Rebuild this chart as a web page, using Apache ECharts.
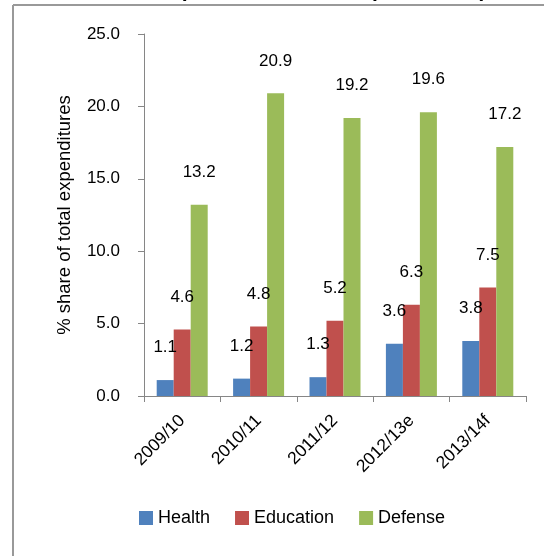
<!DOCTYPE html>
<html>
<head>
<meta charset="utf-8">
<script src="https://cdn.jsdelivr.net/npm/echarts@6/dist/echarts.min.js"></script>
<style>html,body{margin:0;padding:0;background:#fff;}#c{width:544px;height:556px;}</style>
</head>
<body>
<div id="c"></div>
<script>
var categories = ['2009/10', '2010/11', '2011/12', '2012/13e', '2013/14f'];
var health = [1.1, 1.2, 1.3, 3.6, 3.8];
var education = [4.6, 4.8, 5.2, 6.3, 7.5];
var defense = [13.2, 20.9, 19.2, 19.6, 17.2];
var seriesNames = ['Health', 'Education', 'Defense'];
var yTitle = '% share of total expenditures';
var chartTitle = '(% share of total expenditures)';

var FONT = 'Liberation Sans, Arial, sans-serif';
var chart = echarts.init(document.getElementById('c'));
function mk(name, data, color) {
  return {
    name: name, type: 'bar', data: data, barWidth: 17, barGap: '0%',
    itemStyle: { color: color },
    label: { show: true, position: 'top', distance: 24, color: '#000', fontSize: 17, fontFamily: FONT,
      formatter: function (p) { return p.value.toFixed(1); } }
  };
}
chart.setOption({
  animation: false,
  textStyle: { fontFamily: FONT },
  graphic: [
    { type: 'text', x: 333, y: 2, style: { text: chartTitle, fill: '#000', font: 'bold 21px ' + FONT, textAlign: 'center', textVerticalAlign: 'bottom' } },
    { type: 'line', shape: { x1: 13, y1: 5, x2: 544, y2: 5 }, style: { stroke: '#999', lineWidth: 2 } },
    { type: 'line', shape: { x1: 13, y1: 5, x2: 13, y2: 556 }, style: { stroke: '#999', lineWidth: 2 } }
  ],
  legend: {
    data: seriesNames, left: 134, top: 504, itemWidth: 14, itemHeight: 14, itemGap: 25,
    icon: 'rect', textStyle: { fontSize: 18, color: '#000', fontFamily: FONT }
  },
  grid: { left: 144, right: 18, top: 34, bottom: 160, containLabel: false },
  xAxis: {
    type: 'category', data: categories,
    axisLine: { lineStyle: { color: '#868686', width: 1 } },
    axisTick: { show: true, alignWithLabel: false, length: 6, lineStyle: { color: '#868686' } },
    axisLabel: { rotate: 45, fontSize: 17.5, color: '#000', margin: 22, fontFamily: FONT }
  },
  yAxis: {
    type: 'value', min: 0, max: 25, interval: 5,
    name: yTitle, nameLocation: 'middle', nameGap: 70, nameRotate: 90,
    nameTextStyle: { fontSize: 18.5, color: '#000', fontFamily: FONT },
    axisLine: { show: true, lineStyle: { color: '#868686', width: 1 } },
    axisTick: { show: true, length: 6, lineStyle: { color: '#868686' } },
    splitLine: { show: false },
    axisLabel: { fontSize: 17, color: '#000', margin: 24, fontFamily: FONT, formatter: function (v) { return v.toFixed(1); } }
  },
  series: [
    mk(seriesNames[0], health, '#4F81BD'),
    mk(seriesNames[1], education, '#C0504D'),
    mk(seriesNames[2], defense, '#9BBB59')
  ]
});
</script>
</body>
</html>
